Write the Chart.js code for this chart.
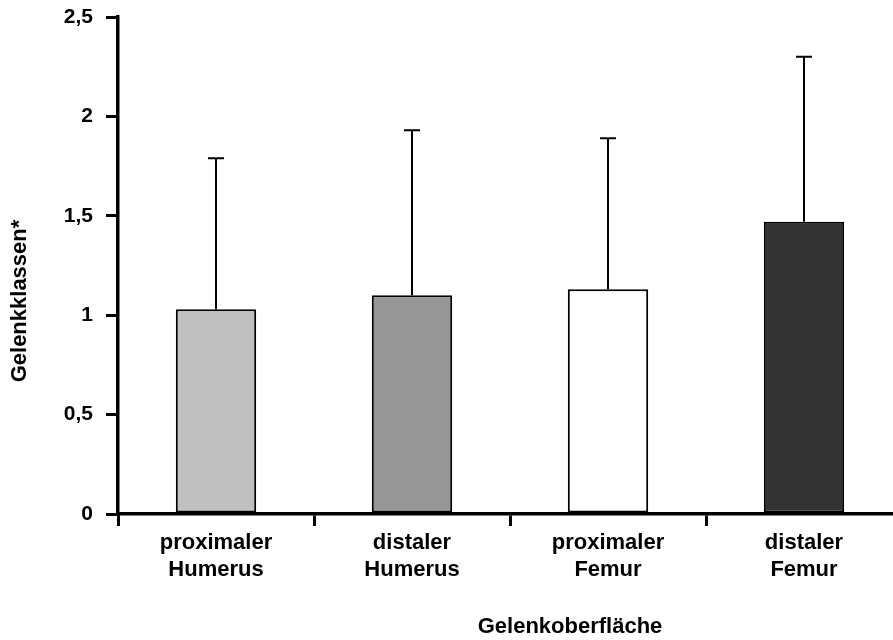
<!DOCTYPE html>
<html>
<head>
<meta charset="utf-8">
<script src="https://cdn.jsdelivr.net/npm/chart.js@4/dist/chart.umd.min.js"></script>
<style>
  html, body { margin: 0; padding: 0; background: #fff; overflow: hidden; }
  #wrap { width: 902px; height: 640px; }
</style>
</head>
<body>
<div id="wrap"><canvas id="chart"></canvas></div>
<script>
// Data
const categories = [["proximaler", "Humerus"], ["distaler", "Humerus"], ["proximaler", "Femur"], ["distaler", "Femur"]]
const means = [1.03, 1.1, 1.13, 1.47]
const stdDev = [0.76, 0.83, 0.76, 0.83]
const barColors = ["#c0c0c0", "#969696", "#ffffff", "#333333"]
const yTicks = [0, 0.5, 1, 1.5, 2, 2.5]
const xTitle = "Gelenkoberfläche"
const yTitle = "Gelenkklassen*"

const FONT = '"Liberation Sans", Arial, sans-serif'

// Upward error bars (mean + SD)
const errorBars = {
  id: "errorBars",
  afterDatasetsDraw(chart) {
    const { ctx } = chart
    const yScale = chart.scales.y
    const meta = chart.getDatasetMeta(0)
    ctx.save()
    ctx.strokeStyle = "#000"
    ctx.lineWidth = 2
    meta.data.forEach((bar, i) => {
      const yTop = yScale.getPixelForValue(means[i] + stdDev[i])
      ctx.beginPath()
      ctx.moveTo(bar.x, bar.y)
      ctx.lineTo(bar.x, yTop)
      ctx.moveTo(bar.x - 8, yTop)
      ctx.lineTo(bar.x + 8, yTop)
      ctx.stroke()
    })
    ctx.restore()
  },
}

// Axis titles, placed like in the reference
const axisTitles = {
  id: "axisTitles",
  afterDraw(chart) {
    const { ctx } = chart
    ctx.save()
    ctx.fillStyle = "#000"
    ctx.font = "bold 22px " + FONT
    ctx.textAlign = "center"
    ctx.textBaseline = "middle"
    ctx.fillText(xTitle, 570, 627)
    ctx.translate(20, 301)
    ctx.rotate(-Math.PI / 2)
    ctx.fillText(yTitle, 0, 0)
    ctx.restore()
  },
}

new Chart(document.getElementById("chart"), {
  type: "bar",
  data: {
    labels: categories,
    datasets: [
      {
        data: means,
        backgroundColor: barColors,
        borderColor: "#000",
        borderWidth: 2,
        borderSkipped: false,
        barPercentage: 0.41,
        categoryPercentage: 1,
      },
    ],
  },
  options: {
    responsive: true,
    maintainAspectRatio: false,
    animation: false,
    layout: {
      padding: { top: 17, right: 0, left: 0, bottom: 0 },
    },
    plugins: {
      legend: { display: false },
      tooltip: { enabled: false },
    },
    scales: {
      x: {
        afterFit: (scale) => {
          scale.height = 126
        },
        grid: {
          display: true,
          offset: true,
          drawOnChartArea: false,
          drawTicks: true,
          tickLength: 12,
          color: "#000",
          lineWidth: 3,
        },
        border: { display: true, color: "#000", width: 3.5 },
        ticks: {
          color: "#000",
          padding: 3,
          maxRotation: 0,
          font: { family: FONT, size: 22, weight: "bold", lineHeight: 1.23 },
        },
      },
      y: {
        min: 0,
        max: 2.5,
        afterFit: (scale) => {
          scale.width = 118
          scale.paddingTop = 0
          scale.paddingBottom = 0
        },
        afterBuildTicks: (scale) => {
          scale.ticks = yTicks.map((v) => ({ value: v }))
        },
        grid: {
          display: true,
          drawOnChartArea: false,
          drawTicks: true,
          tickLength: 12,
          color: "#000",
          lineWidth: 3,
        },
        border: { display: true, color: "#000", width: 3.5 },
        ticks: {
          color: "#000",
          padding: 13,
          font: { family: FONT, size: 21, weight: "bold" },
          callback: (value) => String(value).replace(".", ","),
        },
      },
    },
  },
  plugins: [errorBars, axisTitles],
})
</script>
</body>
</html>
